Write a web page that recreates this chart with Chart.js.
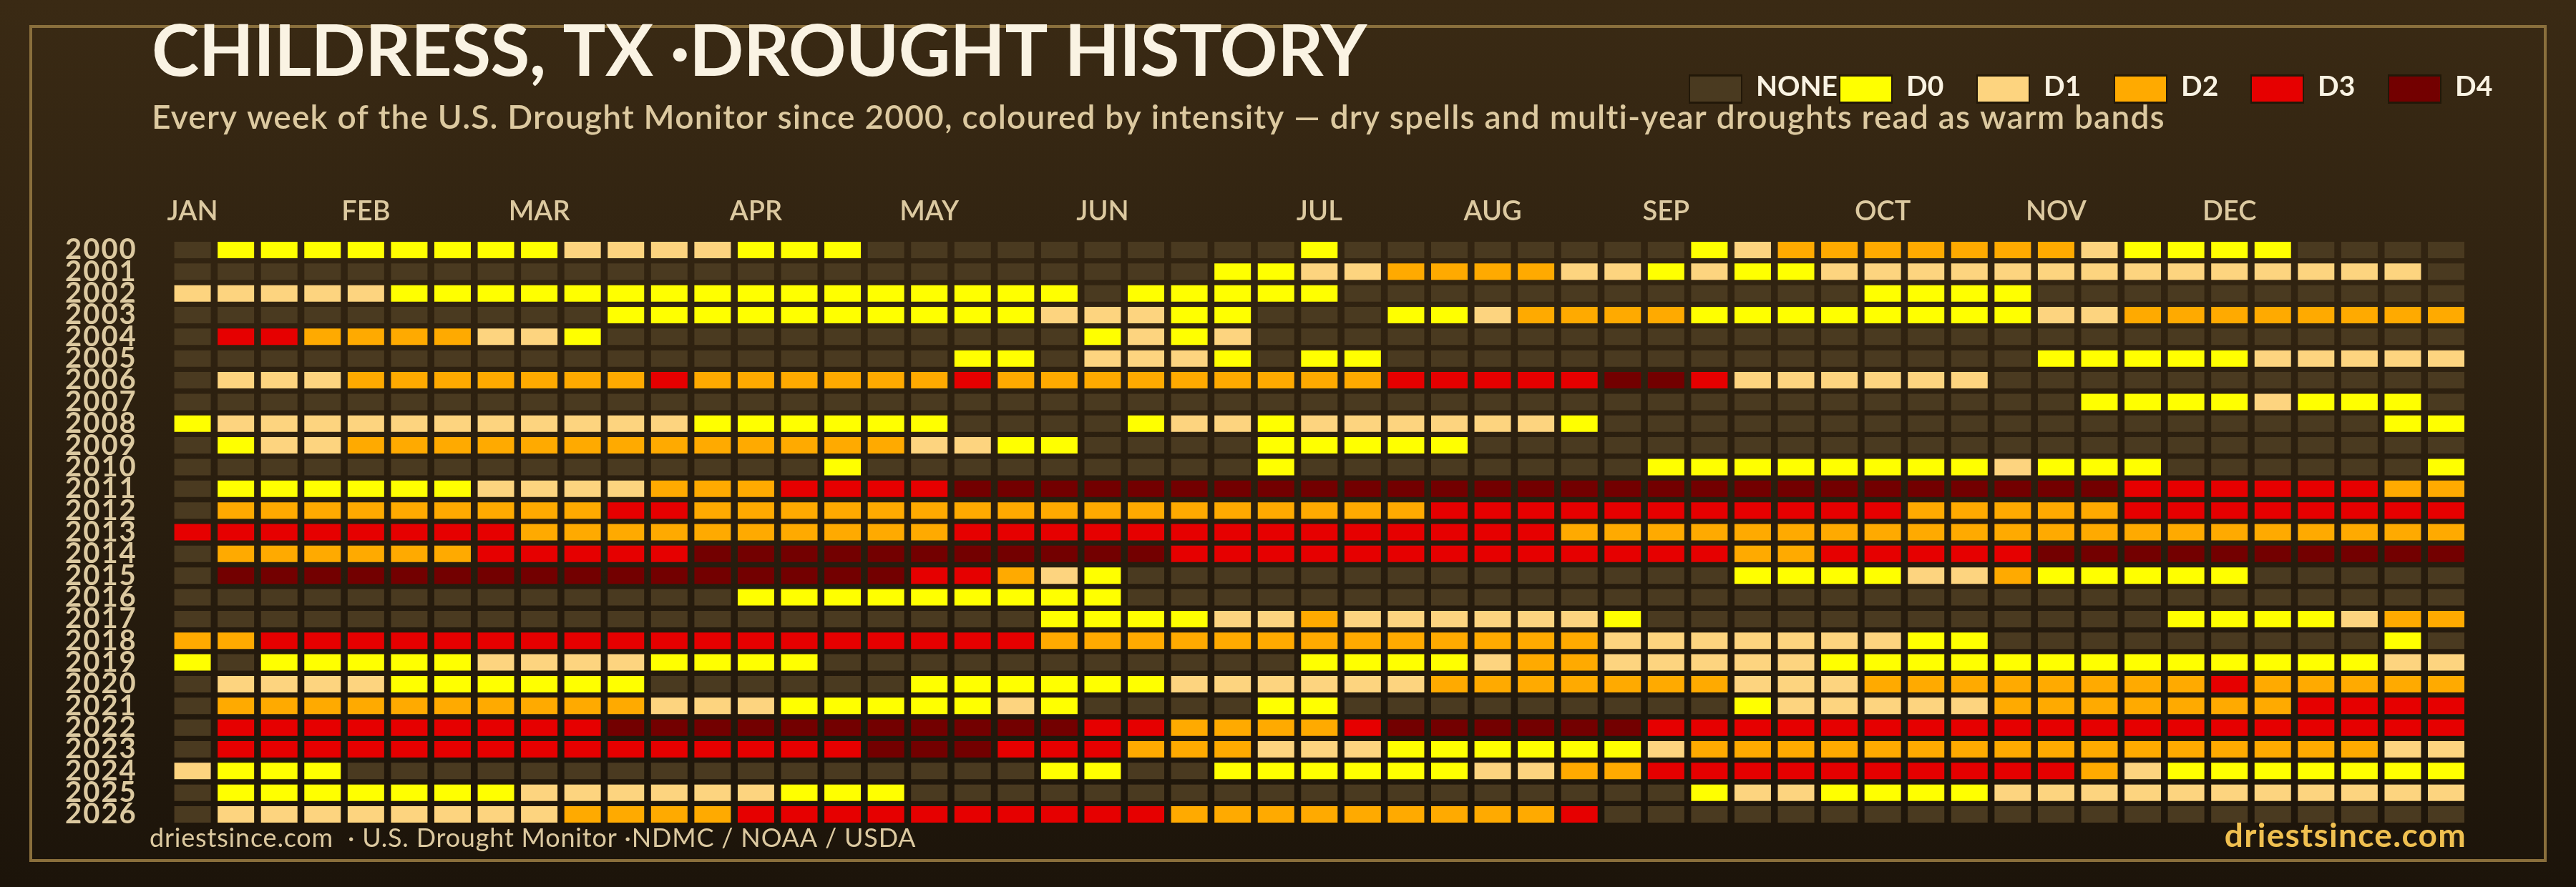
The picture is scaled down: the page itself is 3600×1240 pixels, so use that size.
<!DOCTYPE html>
<html>
<head>
<meta charset="utf-8">
<title>Childress, TX drought history</title>
<script src="https://cdn.jsdelivr.net/npm/chart.js@4"></script>
<style>
  html, body { margin: 0; padding: 0; background: #1c140a; }
  canvas { display: block; }
</style>
</head>
<body>
<canvas id="drought" width="3600" height="1240"></canvas>
<script>
const years = ["2000","2001","2002","2003","2004","2005","2006","2007","2008","2009","2010","2011","2012","2013","2014","2015","2016","2017","2018","2019","2020","2021","2022","2023","2024","2025","2026"];
const monthLabels = ["JAN","FEB","MAR","APR","MAY","JUN","JUL","AUG","SEP","OCT","NOV","DEC"];
const monthWeeks = [0,4,8,13,17,21,26,30,34,39,43,47];
const levelNames = ["NONE","D0","D1","D2","D3","D4"];
const levelColors = ["#4a3a20","#ffff00","#fdd47f","#ffaa00","#e60000","#730000"];

// one value per week, 0 = none, 1..5 = D0..D4
const w2000 = [0,1,1,1,1,1,1,1,1,2,2,2,2,1,1,1,0,0,0,0,0,0,0,0,0,0,1,0,0,0,0,0,0,0,0,1,2,3,3,3,3,3,3,3,2,1,1,1,1,0,0,0,0];
const w2001 = [0,0,0,0,0,0,0,0,0,0,0,0,0,0,0,0,0,0,0,0,0,0,0,0,1,1,2,2,3,3,3,3,2,2,1,2,1,1,2,2,2,2,2,2,2,2,2,2,2,2,2,2,0];
const w2002 = [2,2,2,2,2,1,1,1,1,1,1,1,1,1,1,1,1,1,1,1,1,0,1,1,1,1,1,0,0,0,0,0,0,0,0,0,0,0,0,1,1,1,1,0,0,0,0,0,0,0,0,0,0];
const w2003 = [0,0,0,0,0,0,0,0,0,0,1,1,1,1,1,1,1,1,1,1,2,2,2,1,1,0,0,0,1,1,2,3,3,3,3,1,1,1,1,1,1,1,1,2,2,3,3,3,3,3,3,3,3];
const w2004 = [0,4,4,3,3,3,3,2,2,1,0,0,0,0,0,0,0,0,0,0,0,1,2,1,2,0,0,0,0,0,0,0,0,0,0,0,0,0,0,0,0,0,0,0,0,0,0,0,0,0,0,0,0];
const w2005 = [0,0,0,0,0,0,0,0,0,0,0,0,0,0,0,0,0,0,1,1,0,2,2,2,1,0,1,1,0,0,0,0,0,0,0,0,0,0,0,0,0,0,0,1,1,1,1,1,2,2,2,2,2];
const w2006 = [0,2,2,2,3,3,3,3,3,3,3,4,3,3,3,3,3,3,4,3,3,3,3,3,3,3,3,3,4,4,4,4,4,5,5,4,2,2,2,2,2,2,0,0,0,0,0,0,0,0,0,0,0];
const w2007 = [0,0,0,0,0,0,0,0,0,0,0,0,0,0,0,0,0,0,0,0,0,0,0,0,0,0,0,0,0,0,0,0,0,0,0,0,0,0,0,0,0,0,0,0,1,1,1,1,2,1,1,1,0];
const w2008 = [1,2,2,2,2,2,2,2,2,2,2,2,1,1,1,1,1,1,0,0,0,0,1,2,2,1,2,2,2,2,2,2,1,0,0,0,0,0,0,0,0,0,0,0,0,0,0,0,0,0,0,1,1];
const w2009 = [0,1,2,2,3,3,3,3,3,3,3,3,3,3,3,3,3,2,2,1,1,0,0,0,0,1,1,1,1,1,0,0,0,0,0,0,0,0,0,0,0,0,0,0,0,0,0,0,0,0,0,0,0];
const w2010 = [0,0,0,0,0,0,0,0,0,0,0,0,0,0,0,1,0,0,0,0,0,0,0,0,0,1,0,0,0,0,0,0,0,0,1,1,1,1,1,1,1,1,2,1,1,1,0,0,0,0,0,0,1];
const w2011 = [0,1,1,1,1,1,1,2,2,2,2,3,3,3,4,4,4,4,5,5,5,5,5,5,5,5,5,5,5,5,5,5,5,5,5,5,5,5,5,5,5,5,5,5,5,4,4,4,4,4,4,3,3];
const w2012 = [0,3,3,3,3,3,3,3,3,3,4,4,3,3,3,3,3,3,3,3,3,3,3,3,3,3,3,3,3,4,4,4,4,4,4,4,4,4,4,4,3,3,3,3,3,4,4,4,4,4,4,4,4];
const w2013 = [4,4,4,4,4,4,4,4,3,3,3,3,3,3,3,3,3,3,4,4,4,4,4,4,4,4,4,4,4,4,4,4,3,3,3,3,3,3,3,3,3,3,3,3,3,3,3,3,3,3,3,3,3];
const w2014 = [0,3,3,3,3,3,3,4,4,4,4,4,5,5,5,5,5,5,5,5,5,5,5,4,4,4,4,4,4,4,4,4,4,4,4,4,3,3,4,4,4,4,4,5,5,5,5,5,5,5,5,5,5];
const w2015 = [0,5,5,5,5,5,5,5,5,5,5,5,5,5,5,5,5,4,4,3,2,1,0,0,0,0,0,0,0,0,0,0,0,0,0,0,1,1,1,1,2,2,3,1,1,1,1,1,0,0,0,0,0];
const w2016 = [0,0,0,0,0,0,0,0,0,0,0,0,0,1,1,1,1,1,1,1,1,1,0,0,0,0,0,0,0,0,0,0,0,0,0,0,0,0,0,0,0,0,0,0,0,0,0,0,0,0,0,0,0];
const w2017 = [0,0,0,0,0,0,0,0,0,0,0,0,0,0,0,0,0,0,0,0,1,1,1,1,2,2,3,2,2,2,2,2,2,1,0,0,0,0,0,0,0,0,0,0,0,0,1,1,1,1,2,3,3];
const w2018 = [3,3,4,4,4,4,4,4,4,4,4,4,4,4,4,4,4,4,4,4,3,3,3,3,3,3,3,3,3,3,3,3,3,2,2,2,2,2,2,2,1,1,0,0,0,0,0,0,0,0,0,1,0];
const w2019 = [1,0,1,1,1,1,1,2,2,2,2,1,1,1,1,0,0,0,0,0,0,0,0,0,0,0,1,1,1,1,2,3,3,2,2,2,2,2,1,1,1,1,1,1,1,1,1,1,1,1,1,2,2];
const w2020 = [0,2,2,2,2,1,1,1,1,1,1,0,0,0,0,0,0,1,1,1,1,1,1,2,2,2,2,2,2,3,3,3,3,3,3,3,2,2,2,3,3,3,3,3,3,3,3,4,3,3,3,3,3];
const w2021 = [0,3,3,3,3,3,3,3,3,3,3,2,2,2,1,1,1,1,1,2,1,0,0,0,0,1,1,0,0,0,0,0,0,0,0,0,1,2,2,2,2,2,3,3,3,3,3,3,3,4,4,4,4];
const w2022 = [0,4,4,4,4,4,4,4,4,4,5,5,5,5,5,5,5,5,5,5,5,4,4,3,3,3,3,4,5,5,5,5,5,5,4,4,4,4,4,4,4,4,4,4,4,4,4,4,4,4,4,4,4];
const w2023 = [0,4,4,4,4,4,4,4,4,4,4,4,4,4,4,4,5,5,5,4,4,4,3,3,3,2,2,2,1,1,1,1,1,1,2,3,3,3,3,3,3,3,3,3,3,3,3,3,3,3,3,2,2];
const w2024 = [2,1,1,1,0,0,0,0,0,0,0,0,0,0,0,0,0,0,0,0,1,1,0,0,1,1,1,1,1,1,2,2,3,3,4,4,4,4,4,4,4,4,4,4,3,2,1,1,1,1,1,1,1];
const w2025 = [0,1,1,1,1,1,1,1,2,2,2,2,2,2,1,1,1,0,0,0,0,0,0,0,0,0,0,0,0,0,0,0,0,0,0,1,2,2,1,1,1,1,2,2,2,2,2,2,2,2,2,2,2];
const w2026 = [0,2,2,2,2,2,2,2,2,3,3,3,3,4,4,4,4,4,4,4,4,4,4,3,3,3,3,3,3,3,3,3,4,0,0,0,0,0,0,0,0,0,0,0,0,0,0,0,0,0,0,0,0];

const weekRows = [w2000,w2001,w2002,w2003,w2004,w2005,w2006,w2007,w2008,w2009,w2010,w2011,w2012,w2013,w2014,w2015,w2016,w2017,w2018,w2019,w2020,w2021,w2022,w2023,w2024,w2025,w2026];

const cellHalf = 0.421;
const bodyFont = "Lato";

const datasets = levelNames.map((name, level) => {
  const cells = [];
  weekRows.forEach((row, r) => {
    row.forEach((v, w) => {
      if (v === level) cells.push({ x: [w - cellHalf, w + cellHalf], y: years[r] });
    });
  });
  return { label: name, data: cells, backgroundColor: levelColors[level], borderWidth: 0 };
});

const backdrop = {
  id: "backdrop",
  beforeDraw(chart) {
    const { ctx, width, height } = chart;
    const g = ctx.createLinearGradient(0, 0, 0, height);
    g.addColorStop(0, "#3a2a14");
    g.addColorStop(1, "#1c140a");
    ctx.save();
    ctx.fillStyle = g;
    ctx.fillRect(0, 0, width, height);
    ctx.strokeStyle = "#8a6f3c";
    ctx.lineWidth = 4;
    ctx.strokeRect(43, 37, 3514, 1166);
    ctx.restore();
  },
};

const captions = {
  id: "captions",
  afterDraw(chart) {
    const { ctx } = chart;
    ctx.save();
    ctx.textBaseline = "alphabetic";
    ctx.textAlign = "left";

    ctx.fillStyle = "#faf3e3";
    ctx.font = "bold 100px " + bodyFont;
    ctx.letterSpacing = "-0.5px";
    ctx.fillText("CHILDRESS, TX ·DROUGHT HISTORY", 212, 106);

    ctx.fillStyle = "#dcc9a0";
    ctx.font = "600 46px " + bodyFont;
    ctx.letterSpacing = "1.2px";
    ctx.fillText("Every week of the U.S. Drought Monitor since 2000, coloured by intensity — dry spells and multi-year droughts read as warm bands", 212, 180);
    ctx.letterSpacing = "0px";

    // legend
    const swatchX = [2360, 2570, 2762, 2954, 3145, 3337];
    ctx.font = "bold 39px " + bodyFont;
    levelNames.forEach((name, i) => {
      ctx.fillStyle = "#221808";
      ctx.fillRect(swatchX[i], 104, 75, 41);
      ctx.fillStyle = levelColors[i];
      ctx.fillRect(swatchX[i] + 2, 107, 71, 35);
      ctx.fillStyle = "#faf3e3";
      ctx.fillText(name, swatchX[i] + 94, 134);
    });

    ctx.fillStyle = "#dcc9a0";
    ctx.font = "36px " + bodyFont;
    ctx.letterSpacing = "0.8px";
    ctx.fillText("driestsince.com  · U.S. Drought Monitor ·NDMC / NOAA / USDA", 209, 1184);

    ctx.fillStyle = "#f0c050";
    ctx.font = "bold 46px " + bodyFont;
    ctx.letterSpacing = "1.3px";
    ctx.textAlign = "right";
    ctx.fillText("driestsince.com", 3447, 1184);
    ctx.restore();
  },
};

new Chart(document.getElementById("drought"), {
  type: "bar",
  plugins: [backdrop, captions],
  data: { labels: years, datasets },
  options: {
    indexAxis: "y",
    responsive: false,
    animation: false,
    devicePixelRatio: 1,
    layout: { padding: { left: 0, top: 0, right: 151.2, bottom: 86.3 } },
    datasets: { bar: { grouped: false, categoryPercentage: 1, barPercentage: 0.758 } },
    plugins: { legend: { display: false }, title: { display: false }, tooltip: { enabled: false } },
    scales: {
      x: {
        type: "linear",
        position: "top",
        min: -0.5,
        max: 52.5,
        grid: { display: false },
        border: { display: false },
        afterFit: (scale) => { scale.height = 334.3; },
        afterBuildTicks: (scale) => { scale.ticks = monthWeeks.map((value) => ({ value })); },
        ticks: {
          autoSkip: false,
          maxRotation: 0,
          padding: 8,
          color: "#dcc9a0",
          font: { family: bodyFont, size: 38, weight: "600" },
          callback: (value) => monthLabels[monthWeeks.indexOf(value)],
        },
      },
      y: {
        type: "category",
        grid: { display: false },
        border: { display: false },
        afterFit: (scale) => {
          scale.width = 238.8;
          // year labels are spaced out a little in the original
          if (!scale.spacedLabels) {
            const drawLabels = scale.drawLabels;
            scale.drawLabels = function (area) {
              this.ctx.letterSpacing = "2px";
              drawLabels.call(this, area);
              this.ctx.letterSpacing = "0px";
            };
            scale.spacedLabels = true;
          }
        },
        ticks: {
          autoSkip: false,
          padding: 39,
          color: "#dcc9a0",
          font: { family: bodyFont, size: 40, weight: "bold" },
        },
      },
    },
  },
});
</script>
</body>
</html>
